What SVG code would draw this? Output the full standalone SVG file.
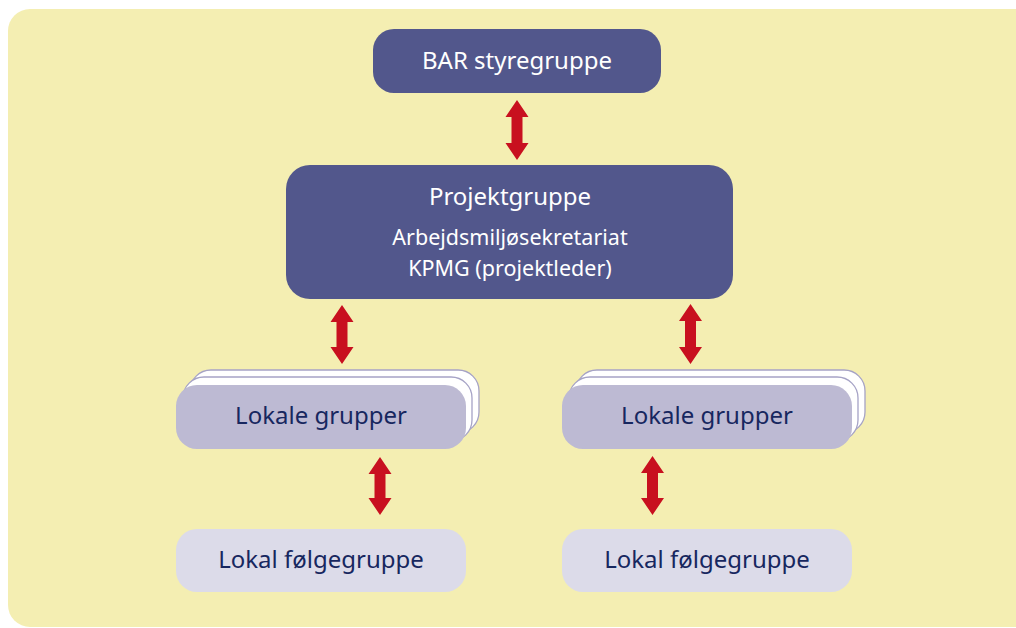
<svg xmlns="http://www.w3.org/2000/svg" width="1016" height="628" viewBox="0 0 1016 628">
<style>
.dark{fill:#52578c}
.mid{fill:#bdbad3}
.light{fill:#dcdbe9}
.back{fill:#ffffff;stroke:#a6a3c6;stroke-width:1.3}
.arrow{fill:#c8101f}
text{font-family:"Noto Sans","Open Sans","Liberation Sans",sans-serif;text-anchor:middle}
.wt{fill:#ffffff}
.nt{fill:#17275f;font-size:24px}
</style>
<rect x="8" y="9" width="1030" height="618" rx="22" fill="#f4eeb2"/>
<g id="bar">
<rect class="dark" x="373" y="29" width="288" height="64" rx="21"/>
<text class="wt" x="517" y="69" font-size="24">BAR styregruppe</text>
</g>
<g id="projektgruppe">
<rect class="dark" x="286" y="165" width="447" height="134" rx="24"/>
<text class="wt" x="510" y="205" font-size="24">Projektgruppe</text>
<text class="wt" x="510" y="245" font-size="21.5">Arbejdsmiljøsekretariat</text>
<text class="wt" x="510" y="276" font-size="21.5">KPMG (projektleder)</text>
</g>
<g id="lokale1">
<rect class="back" x="190" y="370" width="289" height="63" rx="21"/>
<rect class="back" x="183" y="377" width="289" height="64" rx="21"/>
<rect class="mid" x="176" y="385" width="290" height="64" rx="21"/>
<text class="nt" x="321" y="424">Lokale grupper</text>
</g>
<g id="lokale2">
<rect class="back" x="576" y="370" width="289" height="63" rx="21"/>
<rect class="back" x="569" y="377" width="289" height="64" rx="21"/>
<rect class="mid" x="562" y="385" width="290" height="64" rx="21"/>
<text class="nt" x="707" y="424">Lokale grupper</text>
</g>
<g id="folge1">
<rect class="light" x="176" y="529" width="290" height="63" rx="21"/>
<text class="nt" x="321" y="568">Lokal følgegruppe</text>
</g>
<g id="folge2">
<rect class="light" x="562" y="529" width="290" height="63" rx="21"/>
<text class="nt" x="707" y="568">Lokal følgegruppe</text>
</g>
<g id="connectors">
<polygon class="arrow" points="517,100 528.5,117 522.5,117 522.5,143 528.5,143 517,160 505.5,143 511.5,143 511.5,117 505.5,117"/>
<polygon class="arrow" points="342,305 353.5,322 347.5,322 347.5,347 353.5,347 342,364 330.5,347 336.5,347 336.5,322 330.5,322"/>
<polygon class="arrow" points="690.5,304 702,321 696,321 696,347 702,347 690.5,364 679,347 685,347 685,321 679,321"/>
<polygon class="arrow" points="380,457 391.5,474 385.5,474 385.5,498 391.5,498 380,515 368.5,498 374.5,498 374.5,474 368.5,474"/>
<polygon class="arrow" points="652.5,456 664,473 658,473 658,498 664,498 652.5,515 641,498 647,498 647,473 641,473"/>
</g>
</svg>
